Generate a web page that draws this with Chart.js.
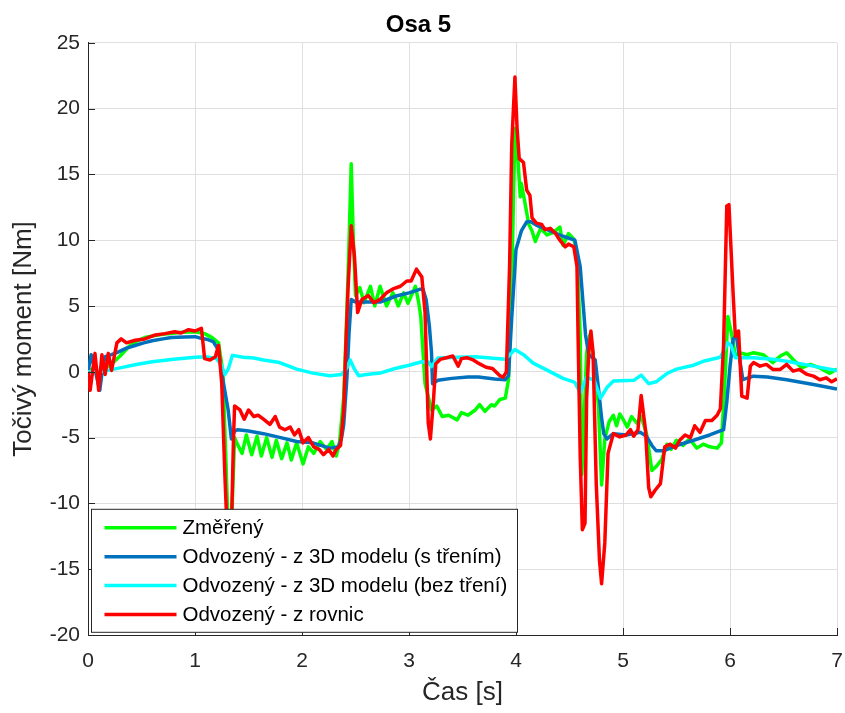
<!DOCTYPE html>
<html>
<head>
<meta charset="utf-8">
<title>Osa 5</title>
<script src="https://cdn.jsdelivr.net/npm/chart.js@4.4.1/dist/chart.umd.min.js"></script>
<style>
  html, body { margin: 0; padding: 0; background: #fff; }
  #wrap { width: 845px; height: 713px; }
</style>
</head>
<body>
<div id="wrap"><canvas id="osa5"></canvas></div>
<script>
// osy
const xTicks = [0, 1, 2, 3, 4, 5, 6, 7];
const yTicks = [-20, -15, -10, -5, 0, 5, 10, 15, 20, 25];

// Změřený
const tMereny = [
  0, 0.05, 0.1, 0.15, 0.22, 0.3, 0.38, 0.45, 0.53, 0.62,
  0.75, 0.88, 1.0, 1.09, 1.16, 1.22, 1.26, 1.29, 1.31, 1.34,
  1.37, 1.39, 1.44, 1.48, 1.53, 1.58, 1.62, 1.67, 1.72, 1.76,
  1.81, 1.86, 1.9, 1.95, 2.01, 2.06, 2.11, 2.17, 2.23, 2.28,
  2.32, 2.35, 2.39, 2.42, 2.44, 2.46, 2.48, 2.5, 2.54, 2.58,
  2.64, 2.68, 2.73, 2.79, 2.85, 2.9, 2.95, 2.99, 3.06, 3.09,
  3.11, 3.15, 3.21, 3.26, 3.31, 3.37, 3.45, 3.49, 3.55, 3.62,
  3.66, 3.71, 3.77, 3.8, 3.85, 3.9, 3.93, 3.96, 3.99, 4.02,
  4.04, 4.05, 4.08, 4.12, 4.15, 4.18, 4.23, 4.29, 4.35, 4.41,
  4.44, 4.49, 4.54, 4.57, 4.6, 4.615, 4.63, 4.66, 4.69, 4.72,
  4.77, 4.8, 4.83, 4.87, 4.91, 4.94, 4.97, 5.0, 5.04, 5.08,
  5.13, 5.17, 5.22, 5.27, 5.31, 5.36, 5.41, 5.45, 5.5, 5.56,
  5.62, 5.69, 5.75, 5.81, 5.88, 5.92, 5.95, 5.98, 6.02, 6.05,
  6.09, 6.16, 6.22, 6.31, 6.4, 6.47, 6.53, 6.59, 6.67, 6.75,
  6.84, 6.93, 7.0
];
const vMereny = [
  0, 0.3, -0.4, 0.2, 0.6, 1.2, 1.9, 2.3, 2.6, 2.75,
  2.9, 3.0, 3.05, 2.9, 2.6, 2.2, 0.0, -7, -12, -12,
  -5.0, -5.4, -6.2, -4.8, -6.3, -4.9, -6.4, -5.0, -6.5, -5.2,
  -6.6, -5.4, -6.7, -5.4, -7.0, -5.7, -6.2, -5.3, -5.9, -5.3,
  -6.4, -5.4, -1.9, 4.7, 10, 15.8, 10, 5.8, 6.4, 5.25,
  6.5, 5.0, 6.5, 5.0, 6.0, 5.0, 6.0, 5.2, 6.5, 5.3,
  4.2, -0.9, -2.9, -2.6, -3.4, -3.3, -3.65, -3.1, -3.3, -2.9,
  -2.5, -3.0, -2.5, -2.6, -2.1, -2.0, -0.6, 6.75, 18.5, 15.9,
  13.3, 14.3, 13.0, 11.2, 10.7, 9.9, 10.9, 10.4, 10.6, 11.0,
  9.6, 10.5, 10.1, 9.1, 2.8, -7.8, -5.1, 1.4, 2.8, 1.4,
  -2.5, -8.6, -5.1, -3.8, -3.3, -4.1, -3.2, -3.6, -4.2, -3.4,
  -3.9, -3.4, -4.7, -7.5, -7.2, -6.7, -5.5, -5.9, -5.2, -5.6,
  -5.1, -5.8, -5.5, -5.7, -5.8, -5.4, -1.1, 4.2, 2.7, 1.2,
  1.45, 1.3, 1.45, 1.3, 0.7, 1.2, 1.45, 0.94, 0.3, 0.56,
  0.3, -0.1, 0.2
];

// Odvozený - z 3D modelu (s třením)
const tTrenim = [
  0, 0.03, 0.07, 0.11, 0.14, 0.16, 0.22, 0.28, 0.36, 0.44,
  0.52, 0.6, 0.7, 0.78, 0.9, 1.0, 1.05, 1.12, 1.17, 1.22,
  1.25, 1.31, 1.34, 1.37, 1.4, 1.5, 1.64, 1.8, 1.95, 2.1,
  2.26, 2.34, 2.37, 2.39, 2.42, 2.44, 2.46, 2.5, 2.6, 2.73,
  2.88, 3.0, 3.1, 3.13, 3.16, 3.19, 3.21, 3.22, 3.27, 3.4,
  3.55, 3.65, 3.8, 3.9, 3.93, 3.96, 4.0, 4.05, 4.1, 4.14,
  4.2, 4.29, 4.44, 4.55, 4.6, 4.65, 4.68, 4.74, 4.77, 4.8,
  4.82, 4.85, 4.91, 5.03, 5.16, 5.22, 5.27, 5.31, 5.38, 5.5,
  5.66, 5.81, 5.94, 5.97, 6.0, 6.03, 6.06, 6.09, 6.12, 6.22,
  6.35, 6.53, 6.78, 7.0
];
const vTrenim = [
  0, 1.3, 0.0, -1.4, 0.5, 1.15, 1.3, 1.5, 1.8, 2.0,
  2.2, 2.36, 2.5, 2.6, 2.65, 2.67, 2.56, 2.45, 2.3, 1.65,
  -0.1, -2.9, -5.1, -4.5, -4.4, -4.5, -4.7, -5.0, -5.3, -5.4,
  -5.8, -5.7, -5.0, -4.0, -0.4, 3.0, 5.5, 5.3, 5.3, 5.3,
  5.76, 6.0, 6.27, 6.3, 5.5, 3.5, 1.5, -0.9, -0.65, -0.5,
  -0.4, -0.4, -0.55, -0.6, -0.3, 4.1, 9.3, 10.7, 11.4, 11.4,
  11.1, 10.8, 10.3, 10.0, 8.0, 2.8, 1.3, 0.9, -1.2, -3.5,
  -4.7, -5.1, -4.7, -4.8, -4.6, -4.9, -5.6, -6.0, -6.0, -5.6,
  -5.2, -4.8, -4.4, -2.3, 0.4, 2.5, 2.7, 1.0, -0.6, -0.33,
  -0.4, -0.6, -0.96, -1.3
];

// Odvozený - z 3D modelu (bez tření)
const tBezTreni = [
  0, 0.15, 0.3, 0.45, 0.6, 0.8, 1.0, 1.1, 1.2, 1.24,
  1.28, 1.31, 1.35, 1.45, 1.55, 1.64, 1.79, 1.95, 2.1, 2.26,
  2.37, 2.42, 2.45, 2.49, 2.53, 2.6, 2.73, 2.87, 3.0, 3.12,
  3.18, 3.21, 3.27, 3.45, 3.62, 3.9, 3.96, 3.99, 4.07, 4.16,
  4.29, 4.44, 4.55, 4.6, 4.66, 4.73, 4.79, 4.85, 4.91, 5.1,
  5.17, 5.24, 5.31, 5.41, 5.5, 5.66, 5.75, 5.91, 5.98, 6.01,
  6.05, 6.22, 6.4, 6.53, 6.78, 7.0
];
const vBezTreni = [
  0, 0.05, 0.3, 0.55, 0.76, 0.95, 1.1, 1.15, 1.0, 0.6,
  -0.2, 0.2, 1.25, 1.1, 1.05, 0.9, 0.7, 0.2, -0.1, -0.3,
  -0.2, 0.3, 0.9, 0.2, -0.3, -0.2, -0.1, 0.25, 0.5, 0.76,
  0.75, 0.4, 1.05, 1.1, 1.15, 0.95, 1.45, 1.7, 1.3, 0.66,
  0.13, -0.5, -0.8, -1.6, -0.4, -0.65, -2.0, -1.2, -0.7, -0.65,
  -0.25, -0.9, -0.76, -0.13, 0.2, 0.5, 0.8, 1.1, 2.2, 2.0,
  1.07, 1.07, 0.95, 0.8, 0.43, 0.1
];

// Odvozený - z rovnic
const tRovnice = [
  0, 0.02, 0.065, 0.1, 0.13, 0.16, 0.19, 0.22, 0.27, 0.31,
  0.36, 0.44, 0.53, 0.63, 0.72, 0.81, 0.87, 0.94, 1.0, 1.06,
  1.09, 1.14, 1.19, 1.22, 1.25, 1.28, 1.3, 1.34, 1.36, 1.37,
  1.42, 1.46, 1.5, 1.55, 1.59, 1.64, 1.7, 1.75, 1.79, 1.84,
  1.89, 1.93, 1.97, 2.01, 2.06, 2.11, 2.16, 2.2, 2.25, 2.29,
  2.32, 2.36, 2.39, 2.41, 2.43, 2.46, 2.49, 2.52, 2.56, 2.62,
  2.67, 2.73, 2.79, 2.85, 2.92, 2.98, 3.02, 3.07, 3.12, 3.15,
  3.18, 3.2, 3.23, 3.25, 3.29, 3.35, 3.41, 3.46, 3.49, 3.54,
  3.6, 3.66, 3.72, 3.78, 3.85, 3.88, 3.91, 3.94, 3.96, 3.99,
  4.01, 4.03, 4.07, 4.1, 4.13, 4.15, 4.19, 4.24, 4.27, 4.32,
  4.37, 4.41, 4.46, 4.49, 4.54, 4.57, 4.58, 4.6, 4.62, 4.645,
  4.66, 4.68, 4.7, 4.72, 4.75, 4.78, 4.8, 4.83, 4.86, 4.91,
  4.97, 5.03, 5.07, 5.1, 5.14, 5.17, 5.21, 5.24, 5.26, 5.3,
  5.35, 5.39, 5.44, 5.49, 5.53, 5.58, 5.63, 5.67, 5.72, 5.77,
  5.83, 5.88, 5.91, 5.94, 5.97, 5.99, 6.03, 6.05, 6.08, 6.11,
  6.16, 6.19, 6.22, 6.28, 6.34, 6.4, 6.47, 6.53, 6.59, 6.65,
  6.72, 6.78, 6.84, 6.9, 6.95, 7.0
];
const vRovnice = [
  0, -1.4, 1.4, -1.4, 1.3, -0.2, 1.4, 0.1, 2.2, 2.5,
  2.2, 2.4, 2.5, 2.8, 2.9, 3.05, 2.95, 3.2, 3.1, 3.3,
  1.0, 0.9, 1.15, 2.0, -0.9, -8, -12, -12, -5, -2.6,
  -2.9, -3.6, -2.9, -3.4, -3.3, -3.6, -4.0, -3.4, -4.2, -4.4,
  -4.2, -4.8, -4.4, -5.4, -5.0, -5.7, -5.9, -6.3, -5.9, -6.4,
  -5.9, -5.6, -2.9, 2.0, 6.3, 11.1, 8.8, 4.5, 5.5, 5.8,
  5.25, 5.5, 6.0, 6.3, 6.5, 6.9, 6.9, 7.8, 7.2, 4.5,
  -3.9, -5.1, -2.0, 0.6, 0.94, 1.07, 1.2, 0.43, 1.0, 1.07,
  0.9, 0.6, 0.35, 0.25, -0.3, -0.4, 0.0, 8, 17.2, 22.4,
  18.5, 16.2, 15.9, 13.8, 13.4, 11.7, 11.3, 11.2, 10.8, 10.9,
  10.5, 10.0, 9.5, 9.7, 9.5, 8.0, 2.8, -6.4, -12.0, -11.5,
  -2.0, 1.45, 3.1, 1.5, -8.5, -14.3, -16.1, -13.0, -6.2, -4.7,
  -4.95, -4.8, -4.4, -4.9, -4.4, -1.8, -4.4, -8.8, -9.5, -9.0,
  -8.5, -5.7, -5.5, -5.8, -5.2, -4.8, -5.0, -4.1, -4.6, -3.7,
  -3.7, -3.3, -2.8, 2.0, 12.6, 12.7, 5.8, 2.7, 3.1, -1.85,
  -2.0, 0.43, 0.7, 0.43, 0.56, 0.18, 0.18, 0.56, 0.05, 0.18,
  -0.2, -0.33, -0.6, -0.46, -0.76, -0.53
];

const TEXT_COLOR = '#262626';
const AXIS_COLOR = '#262626';
const GRID_COLOR = '#dfdfdf';

Chart.defaults.font.family = "'Liberation Sans', Arial, Helvetica, sans-serif";

function points(ts, vs) {
  return ts.map((t, i) => ({ x: t, y: vs[i] }));
}

function series(label, ts, vs, color, order) {
  return {
    label: label,
    data: points(ts, vs),
    borderColor: color,
    backgroundColor: color,
    borderWidth: 3.5,
    borderJoinStyle: 'round',
    pointRadius: 0,
    tension: 0,
    fill: false,
    order: order
  };
}

// MATLAB-like inward tick marks on the left and bottom axis
const innerTicks = {
  id: 'innerTicks',
  afterDatasetsDraw(chart) {
    const { ctx, chartArea: a, scales: { x, y } } = chart;
    ctx.save();
    ctx.strokeStyle = AXIS_COLOR;
    ctx.lineWidth = 1;
    ctx.beginPath();
    xTicks.forEach(v => {
      const px = Math.round(x.getPixelForValue(v)) + 0.5;
      ctx.moveTo(px, a.bottom);
      ctx.lineTo(px, a.bottom - 7);
    });
    yTicks.forEach(v => {
      const py = Math.round(y.getPixelForValue(v)) + 0.5;
      ctx.moveTo(a.left, py);
      ctx.lineTo(a.left + 7, py);
    });
    ctx.stroke();
    ctx.restore();
  }
};

// boxed legend in the lower left corner of the plot
const boxLegend = {
  id: 'boxLegend',
  afterDatasetsDraw(chart) {
    const { ctx, chartArea: a } = chart;
    const left = a.left + 3.5, top = a.top + 466.5;
    const w = 426, h = 123, rowH = 28.9, firstRow = 18.5;
    ctx.save();
    ctx.fillStyle = '#ffffff';
    ctx.fillRect(left, top, w, h);
    ctx.strokeStyle = AXIS_COLOR;
    ctx.lineWidth = 1;
    ctx.strokeRect(left, top, w, h);
    ctx.font = "20.5px 'Liberation Sans', Arial, sans-serif";
    ctx.textBaseline = 'middle';
    ctx.textAlign = 'left';
    chart.data.datasets.forEach((ds, i) => {
      const yy = top + firstRow + i * rowH;
      ctx.strokeStyle = ds.borderColor;
      ctx.lineWidth = 3.5;
      ctx.beginPath();
      ctx.moveTo(left + 13, yy);
      ctx.lineTo(left + 85, yy);
      ctx.stroke();
      ctx.fillStyle = '#000000';
      ctx.fillText(ds.label, left + 91, yy + 1);
    });
    ctx.restore();
  }
};

new Chart(document.getElementById('osa5'), {
  type: 'line',
  data: {
    datasets: [
      series('Změřený', tMereny, vMereny, '#00ff00', 3),
      series('Odvozený - z 3D modelu (s třením)', tTrenim, vTrenim, '#0072bd', 2),
      series('Odvozený - z 3D modelu (bez tření)', tBezTreni, vBezTreni, '#00ffff', 1),
      series('Odvozený - z rovnic', tRovnice, vRovnice, '#ff0000', 0)
    ]
  },
  options: {
    responsive: true,
    maintainAspectRatio: false,
    animation: false,
    layout: { padding: { left: 0, right: 8, top: 0, bottom: 0 } },
    plugins: {
      legend: { display: false },
      tooltip: { enabled: false },
      title: {
        display: true,
        text: 'Osa 5',
        color: '#000000',
        font: { size: 24, weight: 'bold' },
        padding: { top: 11, bottom: 3 }
      }
    },
    scales: {
      x: {
        type: 'linear',
        min: 0,
        max: 7,
        afterBuildTicks: s => { s.ticks = xTicks.map(v => ({ value: v })); },
        afterFit: s => { s.height = 78; s.paddingLeft = 0; s.paddingRight = 0; },
        grid: { color: GRID_COLOR, drawTicks: false },
        border: { color: AXIS_COLOR },
        ticks: { color: TEXT_COLOR, font: { size: 21 }, padding: 14, maxRotation: 0 },
        title: {
          display: true,
          text: 'Čas [s]',
          color: TEXT_COLOR,
          font: { size: 26 },
          padding: { top: 0, bottom: 5 }
        }
      },
      y: {
        min: -20,
        max: 25,
        afterBuildTicks: s => { s.ticks = yTicks.map(v => ({ value: v })); },
        afterFit: s => { s.width = 88; },
        grid: { color: GRID_COLOR, drawTicks: false },
        border: { color: AXIS_COLOR },
        ticks: { color: TEXT_COLOR, font: { size: 21 }, padding: 8 },
        title: {
          display: true,
          text: 'Točivý moment [Nm]',
          color: TEXT_COLOR,
          font: { size: 26 },
          padding: { top: 8, bottom: 0 }
        }
      }
    }
  },
  plugins: [innerTicks, boxLegend]
});
</script>
</body>
</html>
